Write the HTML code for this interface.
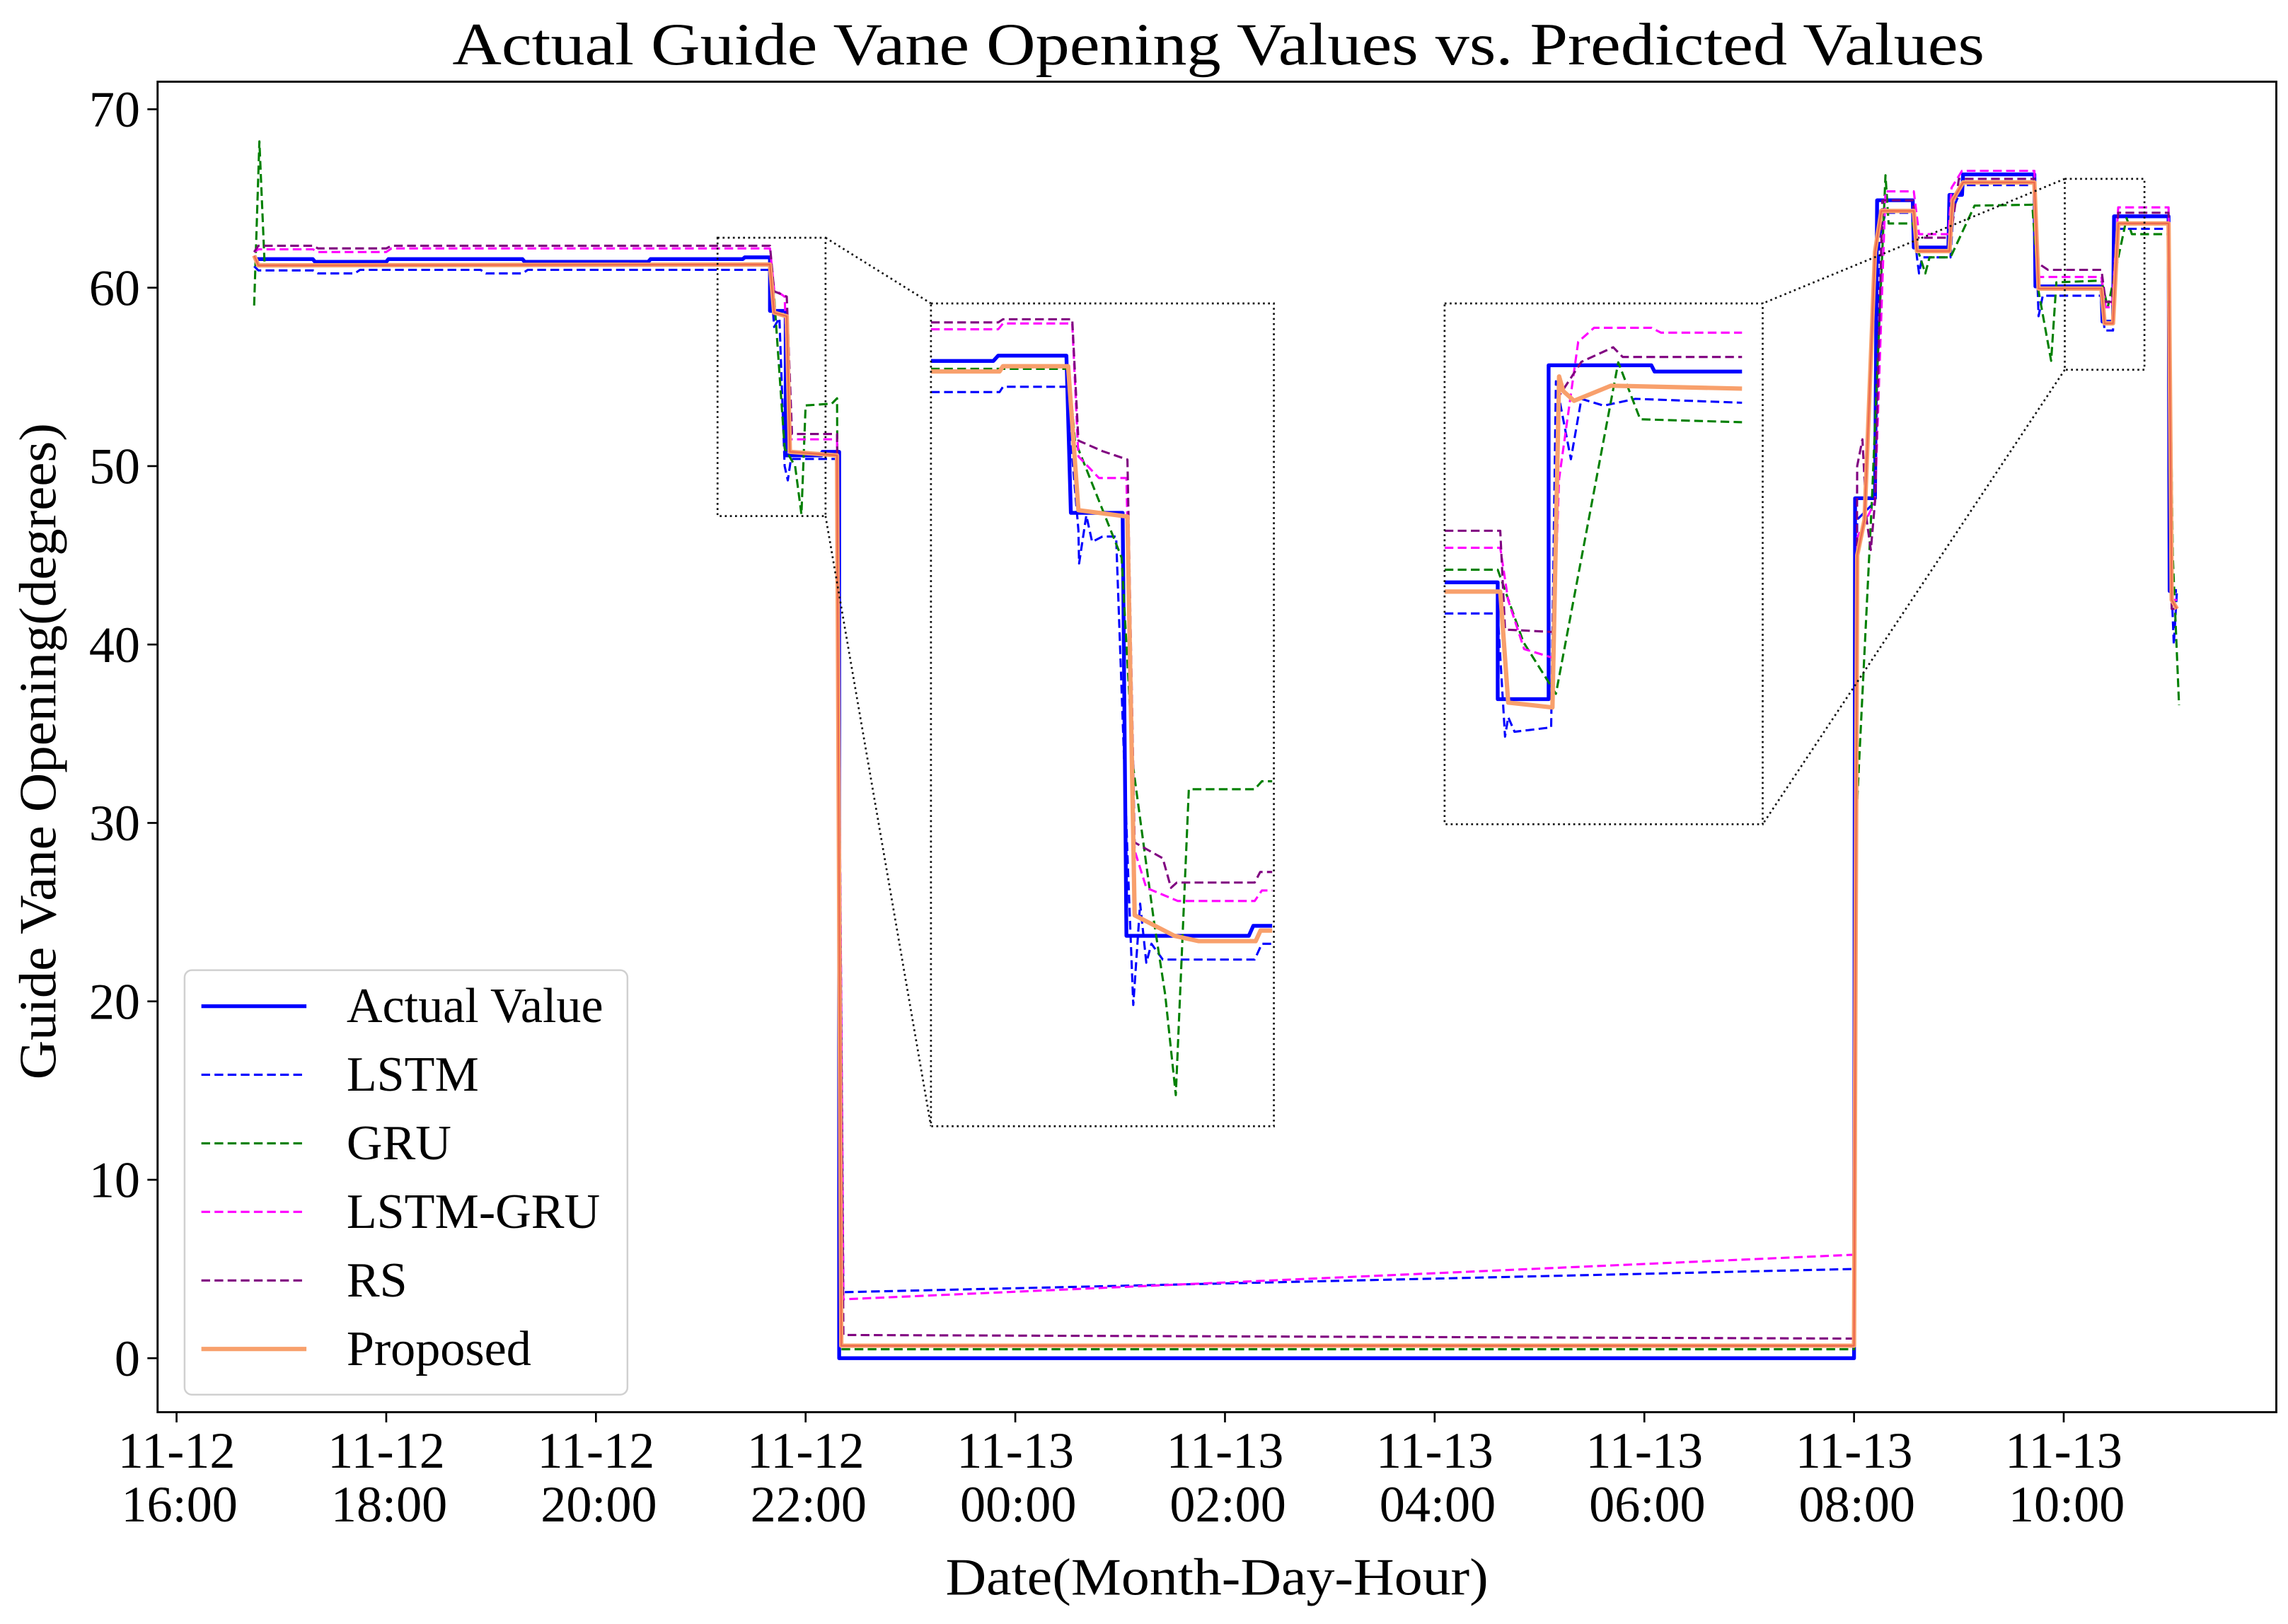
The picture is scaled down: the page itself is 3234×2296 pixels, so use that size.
<!DOCTYPE html>
<html><head><meta charset="utf-8"><style>
html,body{margin:0;padding:0;background:#fff;}
svg{display:block;}
text{font-family:"Liberation Serif",serif;fill:#000;}
</style></head><body>
<svg id="chart" xmlns="http://www.w3.org/2000/svg" width="3234" height="2296" viewBox="0 0 1568 1113.2" preserveAspectRatio="none">
<rect x="0" y="0" width="1568" height="1114" fill="#fff"/>
<text x="835" y="44" font-size="41" text-anchor="middle" textLength="1050" lengthAdjust="spacingAndGlyphs">Actual Guide Vane Opening Values vs. Predicted Values</text>
<defs>
<clipPath id="clipMain"><rect x="108" y="56" width="1452" height="912"/></clipPath>
<clipPath id="clipIn1"><rect x="638" y="208" width="235" height="564"/></clipPath>
<clipPath id="clipIn2"><rect x="990" y="208" width="218" height="357"/></clipPath>
</defs>
<g id="ticks"></g>
<g id="mainPlot" clip-path="url(#clipMain)"></g>
<g id="insets"></g>
<rect x="108" y="56" width="1452" height="912" fill="none" stroke="#000" stroke-width="1.4"/>
<text transform="translate(38,515) rotate(-90)" font-size="36" text-anchor="middle" textLength="450" lengthAdjust="spacingAndGlyphs">Guide Vane Opening(degrees)</text>
<text x="834" y="1093" font-size="36" text-anchor="middle" textLength="372" lengthAdjust="spacingAndGlyphs">Date(Month-Day-Hour)</text>
<g id="legend">
<rect x="126.5" y="665" width="303.5" height="291" rx="5" fill="#fff" stroke="#d0d0d0" stroke-width="1.2"/>
</g>
</svg>
<script>
// ---- data (hours after 11-12 16:00, degrees) ----
const xTickHours = [0,2,4,6,8,10,12,14,16,18];
const xTickDays = ["11-12","11-12","11-12","11-12","11-13","11-13","11-13","11-13","11-13","11-13"];
const xTickTimes = ["16:00","18:00","20:00","22:00","00:00","02:00","04:00","06:00","08:00","10:00"];
const yTicks = [0,10,20,30,40,50,60,70];

const actual = [[0.74,61.6],[1.3,61.6],[1.32,61.45],[2.0,61.45],[2.02,61.6],[3.3,61.6],[3.32,61.45],[4.5,61.45],[4.52,61.6],[5.4,61.6],[5.42,61.7],[5.66,61.7],[5.66,58.7],[5.81,58.7],[5.81,50.6],[6.15,50.6],[6.16,50.8],[6.32,50.8],[6.32,0],[16.0,0],[16.01,48.2],[16.2,48.2],[16.22,64.9],[16.56,64.9],[16.57,62.25],[16.9,62.25],[16.91,65.2],[17.03,65.2],[17.04,66.35],[17.72,66.35],[17.73,60.07],[18.36,60.07],[18.37,58.1],[18.47,58.1],[18.48,64.0],[19.0,64.0],[19.01,43.0],[19.08,43.0]];
const lstm = [[0.74,61.2],[0.78,60.97],[1.3,60.97],[1.35,60.8],[1.7,60.8],[1.75,61.0],[2.9,61.0],[2.95,60.8],[3.3,60.8],[3.35,61.0],[5.66,61.0],[5.7,57.8],[5.75,58.3],[5.8,50.0],[5.83,49.2],[5.86,50.4],[6.3,50.4],[6.36,3.7],[16.0,5.0],[16.03,47],[16.2,48],[16.24,62.7],[16.3,64.2],[16.56,64.2],[16.6,61.7],[16.62,60.8],[16.65,61.7],[16.92,61.7],[16.95,64.5],[17.04,65.75],[17.72,65.75],[17.76,58.4],[17.8,59.55],[18.36,59.55],[18.39,57.6],[18.47,57.6],[18.52,63.3],[19.0,63.3],[19.03,43],[19.05,40.0],[19.08,43]];
const gru = [[0.74,59.0],[0.79,68.2],[0.84,61.3],[5.66,61.3],[5.7,59.5],[5.8,51],[5.9,50],[5.96,47.3],[6.0,53.4],[6.25,53.5],[6.3,53.8],[6.34,0.5],[16.0,0.5],[16.02,30],[16.17,48],[16.3,66.3],[16.33,63.6],[16.56,63.6],[16.62,61.9],[16.68,60.8],[16.72,61.7],[16.92,61.7],[17.15,64.6],[17.7,64.65],[17.76,59.8],[17.88,55.9],[17.93,60.3],[18.36,60.4],[18.42,58.9],[18.6,63.9],[18.65,63.0],[19.0,63.0],[19.04,45],[19.1,36.6]];
const lstmGru = [[0.74,62.0],[0.78,62.15],[1.3,62.15],[1.35,62.0],[2.0,62.0],[2.05,62.2],[5.66,62.2],[5.7,59.9],[5.8,59.5],[5.85,51.5],[6.3,51.5],[6.36,3.3],[16.0,5.8],[16.03,46],[16.2,48],[16.3,65.4],[16.57,65.4],[16.62,63.0],[16.9,63.0],[16.93,65.6],[17.03,66.55],[17.72,66.55],[17.76,60.6],[18.36,60.6],[18.4,58.9],[18.46,58.9],[18.52,64.5],[19.0,64.5],[19.03,42.5],[19.08,42.5]];
const rs = [[0.74,62.0],[0.78,62.35],[1.3,62.35],[1.35,62.2],[2.0,62.2],[2.05,62.35],[5.66,62.35],[5.7,59.8],[5.82,59.5],[5.87,51.8],[6.3,51.8],[6.36,1.3],[16.0,1.1],[16.03,50],[16.08,51.5],[16.12,47],[16.16,45.3],[16.2,48],[16.27,64.9],[16.56,64.9],[16.6,62.8],[16.92,62.8],[17.0,66.1],[17.72,66.1],[17.76,61.35],[17.85,61.0],[18.36,61.0],[18.4,59.2],[18.46,59.2],[18.52,64.2],[19.0,64.2],[19.03,42],[19.08,42]];
const proposed = [[0.74,61.8],[0.78,61.25],[5.66,61.3],[5.7,58.6],[5.82,58.4],[5.85,50.8],[6.3,50.6],[6.34,0.7],[16.0,0.7],[16.03,45],[16.1,47],[16.2,62],[16.26,64.3],[16.57,64.3],[16.6,62.05],[16.91,62.05],[16.94,64.9],[17.04,65.9],[17.72,65.9],[17.76,59.95],[18.36,59.95],[18.39,58.0],[18.47,58.0],[18.52,63.6],[19.0,63.6],[19.03,42.5],[19.08,42]];

// zoom inset 1 (fraction of inset width, degrees)
const in1Actual = [[0,61.71],[0.182,61.71],[0.196,61.81],[0.395,61.81],[0.408,58.83],[0.559,58.83],[0.57,50.81],[0.927,50.81],[0.94,51.0],[0.995,51.0]];
const in1Lstm = [[0,61.12],[0.2,61.12],[0.21,61.22],[0.395,61.22],[0.43,58.5],[0.432,57.87],[0.453,58.78],[0.47,58.28],[0.5,58.38],[0.54,58.38],[0.575,52],[0.59,49.5],[0.61,51.42],[0.628,50.3],[0.643,50.66],[0.676,50.36],[0.944,50.36],[0.965,50.66],[0.995,50.66]];
const in1Gru = [[0,61.56],[0.395,61.56],[0.4,61.66],[0.42,60.2],[0.556,57.98],[0.59,54],[0.61,53.03],[0.65,51.1],[0.683,49.7],[0.714,47.79],[0.752,53.59],[0.944,53.59],[0.965,53.74],[0.995,53.74]];
const in1LstmGru = [[0,62.31],[0.196,62.31],[0.21,62.42],[0.412,62.42],[0.43,59.9],[0.49,59.49],[0.57,59.49],[0.594,52.43],[0.628,51.72],[0.72,51.47],[0.944,51.47],[0.965,51.67],[0.995,51.67]];
const in1Rs = [[0,62.44],[0.196,62.44],[0.21,62.5],[0.412,62.5],[0.43,60.2],[0.5,60.0],[0.573,59.84],[0.594,52.58],[0.676,52.28],[0.7,51.72],[0.717,51.82],[0.944,51.82],[0.96,52.02],[0.995,52.02]];
const in1Proposed = [[0,61.51],[0.2,61.51],[0.21,61.61],[0.4,61.61],[0.43,58.88],[0.573,58.76],[0.594,51.2],[0.71,50.81],[0.78,50.71],[0.947,50.71],[0.961,50.91],[0.995,50.91]];

// zoom inset 2
const in2Actual = [[0,60.37],[0.167,60.37],[0.167,57.97],[0.327,57.97],[0.327,64.83],[0.65,64.83],[0.66,64.7],[0.935,64.7]];
const in2Lstm = [[0,59.73],[0.167,59.73],[0.19,57.2],[0.2,57.6],[0.22,57.3],[0.335,57.39],[0.35,64.5],[0.397,62.9],[0.43,64.14],[0.5,64.0],[0.6,64.14],[0.935,64.06]];
const in2Gru = [[0,60.63],[0.167,60.63],[0.248,59.14],[0.35,58.08],[0.546,64.89],[0.615,63.72],[0.935,63.66]];
const in2LstmGru = [[0,61.08],[0.175,61.08],[0.2,60.0],[0.25,59.0],[0.34,58.82],[0.36,62.5],[0.42,65.31],[0.47,65.6],[0.65,65.6],[0.68,65.5],[0.935,65.5]];
const in2Rs = [[0,61.43],[0.175,61.43],[0.19,59.4],[0.34,59.35],[0.36,64.2],[0.43,64.9],[0.53,65.2],[0.56,65.0],[0.935,65.0]];
const in2Proposed = [[0,60.18],[0.175,60.18],[0.2,57.9],[0.339,57.8],[0.36,64.6],[0.373,64.3],[0.407,64.1],[0.523,64.41],[0.935,64.35]];

const zoom1Hours = [5.16,6.19];
const zoom1Deg = [47.2,62.8];
const zoom2Hours = [18.01,18.77];
const zoom2Deg = [55.4,66.1];

// ---- scales ----
const NS = "http://www.w3.org/2000/svg";
const X0 = 121, XPH = 71.85, Y0 = 931, YPD = 12.23;
function xs(t){ return X0 + t*XPH; }
function ys(v){ return Y0 - v*YPD; }
function mk(tag, attrs, parent){ const e=document.createElementNS(NS,tag); for(const k in attrs) e.setAttribute(k,attrs[k]); parent.appendChild(e); return e; }

const styles = {
  actual:{stroke:"#0000ff", w:2.6, dash:null},
  lstm:{stroke:"#0000ff", w:1.5, dash:"6 3"},
  gru:{stroke:"#008000", w:1.5, dash:"6 3"},
  lstmGru:{stroke:"#ff00ff", w:1.5, dash:"6 3"},
  rs:{stroke:"#800080", w:1.5, dash:"6 3"},
  proposed:{stroke:"#f8a06c", w:3, dash:null}
};
function pathD(pts, fx, fy){ return pts.map((p,i)=>(i?"L":"M")+fx(p[0]).toFixed(2)+","+fy(p[1]).toFixed(2)).join(""); }
function drawSeries(parent, pts, st, fx, fy, name){
  const p = mk("path",{d:pathD(pts,fx,fy), fill:"none", stroke:st.stroke, "stroke-width":st.w, "stroke-linejoin":"round"}, parent);
  if(st.dash) p.setAttribute("stroke-dasharray", st.dash);
  
  
  return p;
}

// ticks
const tg = document.getElementById("ticks");
yTicks.forEach(v=>{
  const y = ys(v);
  const l = mk("line",{x1:101,x2:108,y1:y,y2:y,stroke:"#000","stroke-width":1.3},tg);
  
  
  const t = mk("text",{x:96,y:y+12,"font-size":35,"text-anchor":"end"},tg);
  t.textContent = v;
  
  
});
xTickHours.forEach((h,i)=>{
  const x = xs(h);
  const l = mk("line",{x1:x,x2:x,y1:968,y2:975,stroke:"#000","stroke-width":1.3},tg);
  
  
  const t1 = mk("text",{x:x,y:1006,"font-size":35,"text-anchor":"middle"},tg);
  t1.textContent = xTickDays[i];
  
  
  const t2 = mk("text",{x:x+2,y:1043,"font-size":35,"text-anchor":"middle"},tg);
  t2.textContent = xTickTimes[i];
  
  
});

// main series
const mg = document.getElementById("mainPlot");
const order = [["actual",actual],["lstm",lstm],["gru",gru],["lstmGru",lstmGru],["rs",rs],["proposed",proposed]];
order.forEach(([k,d])=>drawSeries(mg,d,styles[k],xs,ys,"series-"+k));
const redLine = drawSeries(mg, proposed, {stroke:"#e8453a", w:1.1, dash:null}, xs, ys, "series-proposed-core");
redLine.setAttribute("opacity","0.6");

// insets
const ig = document.getElementById("insets");
const dotted = {fill:"none", stroke:"#111", "stroke-width":1.3, "stroke-dasharray":"1.3 2.2"};
function insetGroup(name, box, hours, deg, clip, data){
  const [ix,iy,iw,ih] = box;
  const bx1 = xs(hours[0]), bx2 = xs(hours[1]), by1 = ys(deg[1]), by2 = ys(deg[0]);
  const src = mk("rect",Object.assign({x:bx1,y:by1,width:bx2-bx1,height:by2-by1},dotted),ig);
  
  
  const left = ix > bx2;
  const c1 = mk("line",Object.assign({x1:left?bx2:bx1,y1:by1,x2:left?ix:ix+iw,y2:iy},dotted),ig);
  
  
  const c2 = mk("line",Object.assign({x1:left?bx2:bx1,y1:by2,x2:left?ix:ix+iw,y2:iy+ih},dotted),ig);
  
  
  const bg = mk("rect",{x:ix,y:iy,width:iw,height:ih,fill:"#fff"},ig);
  
  
  const g = mk("g",{"clip-path":"url(#"+clip+")"},ig);
  
  
  const fx = f => ix + f*iw;
  const fy = v => iy + (deg[1]-v)/(deg[1]-deg[0])*ih;
  data.forEach(([k,d])=>drawSeries(g,d,styles[k],fx,fy,name+"-series-"+k));
  const fr = mk("rect",Object.assign({x:ix,y:iy,width:iw,height:ih},dotted),ig);
  
  
}
insetGroup("zoom-inset-1",[638,208,235,564],zoom1Hours,zoom1Deg,"clipIn1",
  [["actual",in1Actual],["lstm",in1Lstm],["gru",in1Gru],["lstmGru",in1LstmGru],["rs",in1Rs],["proposed",in1Proposed]]);
insetGroup("zoom-inset-2",[990,208,218,357],zoom2Hours,zoom2Deg,"clipIn2",
  [["actual",in2Actual],["lstm",in2Lstm],["gru",in2Gru],["lstmGru",in2LstmGru],["rs",in2Rs],["proposed",in2Proposed]]);

// legend
const lg = document.getElementById("legend");
const legendLabels = ["Actual Value","LSTM","GRU","LSTM-GRU","RS","Proposed"];
const legendKeys = ["actual","lstm","gru","lstmGru","rs","proposed"];
legendLabels.forEach((lab,i)=>{
  const y = 689.7 + i*47;
  const st = styles[legendKeys[i]];
  const l = mk("line",{x1:138,x2:210,y1:y,y2:y,stroke:st.stroke,"stroke-width":st.w},lg);
  if(st.dash) l.setAttribute("stroke-dasharray",st.dash);
  
  
  const t = mk("text",{x:237.5,y:y+11,"font-size":34},lg);
  t.textContent = lab;
  
  
});
</script>
</body></html>
